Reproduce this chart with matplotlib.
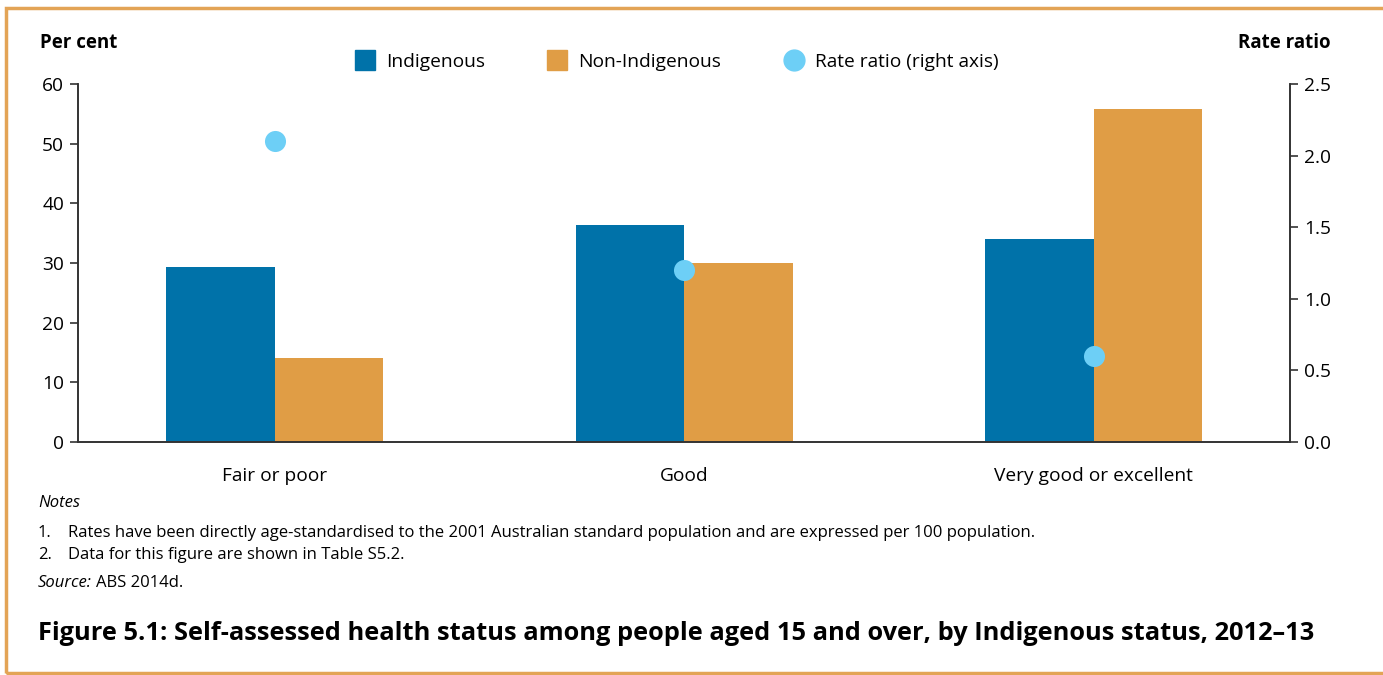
import numpy as np
import matplotlib.pyplot as plt
from matplotlib.patches import Rectangle
from matplotlib.lines import Line2D

categories = ['Fair or poor', 'Good', 'Very good or excellent']
indigenous = [29.3, 36.4, 34.0]
non_indigenous = [14.1, 30.0, 55.8]
rate_ratio = [2.1, 1.2, 0.6]

blue = '#0072a9'
orange = '#e09d45'
light_blue = '#6dcff6'
frame_col = '#e3a456'
axis_col = '#333333'

plt.rcParams['font.family'] = ['Open Sans', 'DejaVu Sans']

fig = plt.figure(figsize=(13.83, 6.75), dpi=100)
W, H = 1383, 675

def fx(px):
    return px / W

def fy(py):
    return 1 - py / H

ax = fig.add_axes([fx(78), fy(442), fx(1290 - 78), (442 - 84) / H])
x = np.arange(len(categories))
bw = 0.265
ax.bar(x - bw / 2, indigenous, bw, color=blue, label='Indigenous')
ax.bar(x + bw / 2, non_indigenous, bw, color=orange, label='Non-Indigenous')
ax.set_xlim(-0.481, 2.479)
ax.set_ylim(0, 60)
ax.set_yticks(range(0, 61, 10))
ax.set_xticks(x)
ax.set_xticklabels(categories)
ax.tick_params(axis='x', length=0, pad=18, labelsize=13.8)
ax.tick_params(axis='y', length=6, width=1.2, color=axis_col, labelsize=13.8, pad=4)
ax.spines['top'].set_visible(False)
for s in ['left', 'bottom', 'right']:
    ax.spines[s].set_color(axis_col)
    ax.spines[s].set_linewidth(1.2)

ax2 = ax.twinx()
ax2.set_ylim(0, 2.5)
ax2.set_yticks(np.arange(0, 2.51, 0.5))
ax2.set_yticklabels([f'{v:.1f}' for v in np.arange(0, 2.51, 0.5)])
ax2.tick_params(axis='y', length=6, width=1.2, color=axis_col, labelsize=13.8, pad=4)
ax2.scatter(x, rate_ratio, s=230, color=light_blue, zorder=5, linewidths=0)
ax2.spines['top'].set_visible(False)
for s in ['left', 'bottom', 'right']:
    ax2.spines[s].set_color(axis_col)
    ax2.spines[s].set_linewidth(1.2)

fig.text(fx(40), fy(43), 'Per cent', fontsize=13.5, fontweight='bold', va='center', ha='left')
fig.text(fx(1331), fy(43), 'Rate ratio', fontsize=13.5, fontweight='bold', va='center', ha='right')

handles = [
    Line2D([], [], marker='s', linestyle='', markersize=15, color=blue),
    Line2D([], [], marker='s', linestyle='', markersize=15, color=orange),
    Line2D([], [], marker='o', linestyle='', markersize=15, color=light_blue),
]
labels = ['Indigenous', 'Non-Indigenous', 'Rate ratio (right axis)']
fig.legend(handles, labels, loc='center', bbox_to_anchor=(fx(676), fy(62)), ncol=3,
           frameon=False, fontsize=13.8, handletextpad=0.5, columnspacing=3.2,
           handlelength=1.2)

nfs = 12.0
fig.text(fx(38), fy(503), 'Notes', fontsize=nfs, style='italic', va='center')
fig.text(fx(38), fy(533), '1.', fontsize=nfs, va='center')
fig.text(fx(68), fy(533), 'Rates have been directly age-standardised to the 2001 Australian standard population and are expressed per 100 population.',
         fontsize=nfs, va='center')
fig.text(fx(38), fy(555), '2.', fontsize=nfs, va='center')
fig.text(fx(68), fy(555), 'Data for this figure are shown in Table S5.2.', fontsize=nfs, va='center')
fig.text(fx(38), fy(583), 'Source:', fontsize=nfs, style='italic', va='center')
fig.text(fx(96), fy(583), 'ABS 2014d.', fontsize=nfs, va='center')

fig.text(fx(38), fy(633), 'Figure 5.1: Self-assessed health status among people aged 15 and over, by Indigenous status, 2012\u201313',
         fontsize=18.25, fontweight='bold', va='center')

frame = Rectangle((fx(6), fy(673)), fx(1390 - 6), (673 - 8) / H, transform=fig.transFigure,
                  fill=False, edgecolor=frame_col, linewidth=2.5, clip_on=False)
fig.patches.append(frame)

fig.savefig('out.png', dpi=100)
